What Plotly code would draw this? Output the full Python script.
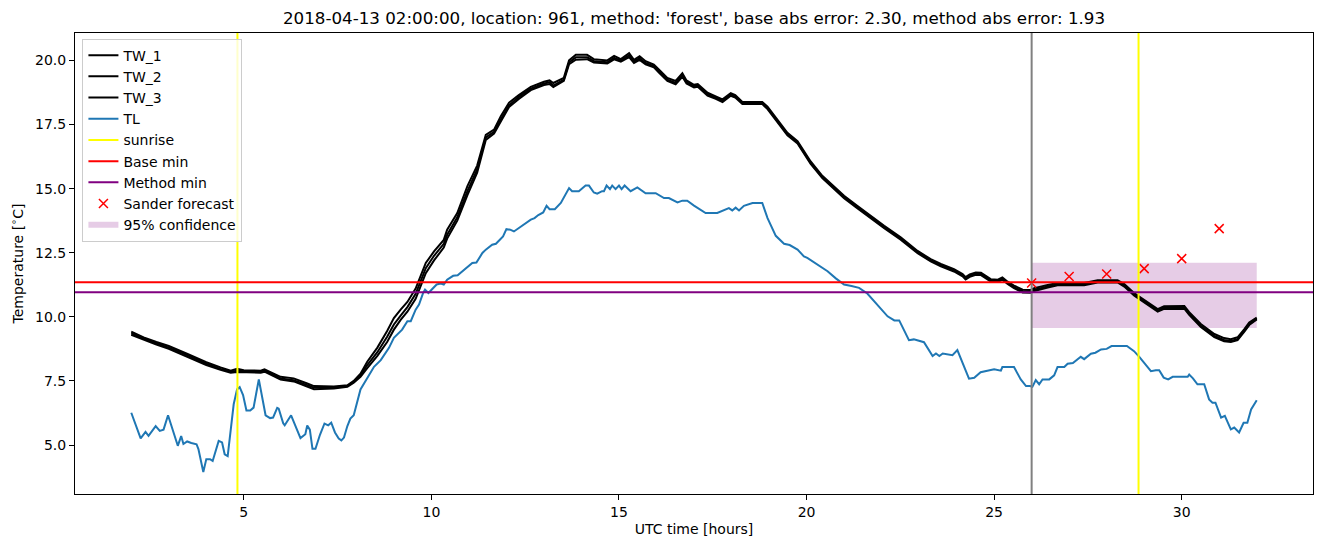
import plotly.graph_objects as go

# ---------------- data ----------------
hours_tw = [2.0, 2.33, 2.67, 3.0, 3.5, 4.0, 4.38, 4.65, 4.82, 5.0, 5.45, 5.55, 5.98, 6.33, 6.69, 6.87,
            7.4, 7.76, 7.93, 8.11, 8.29, 8.56, 8.82, 9.0, 9.18, 9.36, 9.58, 9.71, 9.85, 10.07, 10.33,
            10.42, 10.69, 10.96, 11.22, 11.45, 11.67, 11.85, 12.07, 12.33, 12.65, 13.0, 13.15, 13.25,
            13.53, 13.67, 13.85, 14.15, 14.33, 14.69, 14.87, 15.05, 15.27, 15.4, 15.55, 15.71, 15.93,
            16.07, 16.29, 16.51, 16.69, 16.8, 17.0, 17.1, 17.36, 17.58, 17.76, 17.98, 18.1, 18.29,
            18.82, 18.96, 19.22, 19.49, 19.76, 20.11, 20.42, 20.73, 21.0, 21.36, 21.71, 22.07, 22.51,
            22.96, 23.31, 23.58, 23.93, 24.16, 24.24, 24.35, 24.51, 24.65, 24.91, 25.1, 25.22, 25.36,
            25.53, 25.76, 25.98, 26.07, 26.43, 26.69, 27.4, 27.76, 28.29, 28.47, 28.73, 29.09, 29.36,
            29.53, 30.07, 30.2, 30.51, 30.87, 31.13, 31.31, 31.49, 31.67, 31.8, 32.0]

tw_1 = [9.42, 9.2, 9.02, 8.86, 8.55, 8.23, 8.03, 7.9, 7.97, 7.92, 7.9, 7.95, 7.66, 7.6, 7.4, 7.3,
        7.28, 7.33, 7.5, 7.78, 8.25, 8.8, 9.45, 9.95, 10.28, 10.58, 11.1, 11.6, 12.1, 12.55, 13.0,
        13.4, 14.05, 15.1, 15.9, 17.1, 17.3, 17.82, 18.35, 18.65, 18.97, 19.17, 19.22, 19.12,
        19.32, 20.0, 20.22, 20.22, 20.05, 20.0, 20.18, 20.05, 20.28, 20.02, 20.16, 19.97, 19.84,
        19.64, 19.32, 19.2, 19.5, 19.22, 19.05, 19.08, 18.74, 18.6, 18.48, 18.72, 18.65, 18.38,
        18.38, 18.2, 17.7, 17.18, 16.85, 16.06, 15.5, 15.1, 14.72, 14.32, 13.93, 13.55, 13.1,
        12.57, 12.25, 12.06, 11.86, 11.67, 11.55, 11.65, 11.73, 11.72, 11.47, 11.45, 11.54, 11.37,
        11.22, 11.06, 11.05, 11.12, 11.24, 11.32, 11.32, 11.43, 11.43, 11.28, 10.93, 10.56, 10.3,
        10.41, 10.42, 10.18, 9.72, 9.33, 9.17, 9.13, 9.2, 9.52, 9.78, 9.97]

tw_2 = [9.36, 9.15, 8.97, 8.8, 8.5, 8.17, 7.97, 7.86, 7.9, 7.88, 7.85, 7.9, 7.6, 7.53, 7.33, 7.24,
        7.24, 7.3, 7.46, 7.72, 8.12, 8.62, 9.22, 9.7, 10.05, 10.38, 10.9, 11.38, 11.9, 12.38, 12.85,
        13.2, 13.88, 14.9, 15.75, 17.0, 17.22, 17.7, 18.25, 18.58, 18.9, 19.1, 19.15, 19.02,
        19.25, 19.92, 20.12, 20.12, 19.98, 19.93, 20.1, 20.0, 20.2, 19.96, 20.08, 19.9, 19.78,
        19.58, 19.25, 19.12, 19.42, 19.15, 19.0, 19.02, 18.68, 18.55, 18.43, 18.67, 18.6, 18.33,
        18.33, 18.15, 17.65, 17.12, 16.8, 16.0, 15.45, 15.05, 14.67, 14.27, 13.88, 13.5, 13.05,
        12.52, 12.2, 12.01, 11.81, 11.62, 11.5, 11.6, 11.68, 11.67, 11.42, 11.4, 11.49, 11.32,
        11.16, 11.0, 10.99, 11.06, 11.18, 11.27, 11.27, 11.38, 11.38, 11.22, 10.87, 10.5, 10.24,
        10.35, 10.36, 10.12, 9.65, 9.26, 9.1, 9.06, 9.13, 9.46, 9.72, 9.92]

tw_3 = [9.3, 9.1, 8.92, 8.75, 8.45, 8.12, 7.93, 7.82, 7.85, 7.84, 7.82, 7.86, 7.55, 7.48, 7.27, 7.18,
        7.2, 7.27, 7.43, 7.66, 8.0, 8.48, 9.02, 9.5, 9.88, 10.2, 10.7, 11.15, 11.7, 12.2, 12.7,
        13.05, 13.75, 14.75, 15.62, 16.9, 17.15, 17.62, 18.18, 18.5, 18.84, 19.04, 19.08, 18.96,
        19.2, 19.85, 20.03, 20.05, 19.92, 19.88, 20.04, 19.95, 20.13, 19.9, 20.02, 19.85, 19.73,
        19.52, 19.2, 19.07, 19.36, 19.1, 18.95, 18.97, 18.63, 18.5, 18.38, 18.62, 18.55, 18.3,
        18.3, 18.1, 17.6, 17.08, 16.76, 15.96, 15.41, 15.01, 14.63, 14.23, 13.84, 13.46, 13.01,
        12.48, 12.16, 11.97, 11.77, 11.58, 11.46, 11.56, 11.64, 11.63, 11.38, 11.36, 11.45, 11.28,
        11.12, 10.95, 10.94, 11.01, 11.14, 11.23, 11.23, 11.34, 11.34, 11.18, 10.83, 10.46, 10.2,
        10.31, 10.32, 10.08, 9.6, 9.21, 9.05, 9.02, 9.09, 9.42, 9.68, 9.9]

hours_tl = [2.0, 2.25, 2.38, 2.46, 2.65, 2.76, 2.86, 2.98, 3.24, 3.33, 3.39, 3.49, 3.6, 3.74, 3.79,
            3.92, 4.0, 4.1, 4.17, 4.33, 4.42, 4.49, 4.57, 4.73, 4.82, 4.89, 4.98, 5.07, 5.17, 5.26,
            5.4, 5.58, 5.7, 5.78, 5.89, 5.93, 6.05, 6.09, 6.26, 6.38, 6.51, 6.64, 6.69, 6.76, 6.83,
            6.91, 7.03, 7.15, 7.25, 7.33, 7.43, 7.53, 7.6, 7.67, 7.76, 7.84, 7.93, 8.11, 8.29, 8.47,
            8.65, 8.87, 9.0, 9.22, 9.36, 9.45, 9.58, 9.67, 9.78, 9.83, 9.92, 10.14, 10.25, 10.33,
            10.42, 10.58, 10.7, 10.87, 11.0, 11.09, 11.2, 11.36, 11.45, 11.62, 11.72, 11.91, 12.0,
            12.1, 12.2, 12.38, 12.65, 12.75, 12.85, 12.98, 13.07, 13.15, 13.29, 13.45, 13.67, 13.75,
            13.93, 14.11, 14.2, 14.33, 14.42, 14.55, 14.6, 14.67, 14.76, 14.82, 14.91, 15.0, 15.07,
            15.15, 15.31, 15.49, 15.71, 15.98, 16.2, 16.33, 16.56, 16.69, 16.82, 17.0, 17.31, 17.62,
            17.76, 17.93, 18.02, 18.11, 18.2, 18.33, 18.56, 18.82, 18.96, 19.18, 19.4, 19.55, 19.76,
            19.93, 20.02, 20.38, 20.5, 20.56, 20.78, 20.82, 21.0, 21.2, 21.4, 21.62, 21.85, 21.98,
            22.16, 22.34, 22.47, 22.73, 22.86, 23.13, 23.36, 23.45, 23.54, 23.63, 23.89, 24.02,
            24.33, 24.47, 24.64, 25.0, 25.18, 25.22, 25.53, 25.71, 25.85, 25.96, 26.02, 26.11, 26.2,
            26.29, 26.47, 26.6, 26.69, 26.87, 26.96, 27.1, 27.31, 27.4, 27.58, 27.7, 27.85, 28.0,
            28.13, 28.54, 28.73, 28.87, 29.05, 29.18, 29.31, 29.4, 29.52, 29.64, 29.76, 30.16, 30.2,
            30.3, 30.42, 30.6, 30.73, 30.82, 30.9, 31.05, 31.15, 31.31, 31.4, 31.53, 31.65, 31.75,
            31.85, 32.0]

tl = [6.26, 5.26, 5.51, 5.36, 5.74, 5.55, 5.6, 6.16, 4.97, 5.35, 5.04, 5.14, 5.08, 5.03, 4.84,
      3.95, 4.45, 4.45, 4.38, 5.16, 5.1, 4.64, 4.57, 6.59, 7.17, 7.26, 6.95, 6.35, 6.35, 6.46,
      7.56, 6.16, 6.05, 6.07, 6.45, 6.42, 5.85, 5.77, 6.16, 5.72, 5.27, 5.42, 5.76, 5.6, 4.85,
      4.85, 5.4, 5.84, 5.77, 5.87, 5.49, 5.25, 5.18, 5.29, 5.74, 6.03, 6.16, 7.17, 7.63, 8.05,
      8.31, 8.79, 9.18, 9.5, 9.83, 9.83, 10.28, 10.48, 10.93, 11.06, 10.93, 11.26, 11.3, 11.26,
      11.45, 11.6, 11.62, 11.84, 11.97, 12.1, 12.12, 12.49, 12.62, 12.81, 12.85, 13.14, 13.42,
      13.4, 13.33, 13.52, 13.79, 13.85, 13.97, 14.07, 14.33, 14.2, 14.2, 14.44, 15.02, 14.9,
      14.9, 15.12, 15.12, 14.85, 14.8, 14.9, 14.9, 15.12, 14.98, 15.12, 14.98, 15.12, 14.98,
      15.12, 14.9, 15.05, 14.82, 14.82, 14.63, 14.63, 14.46, 14.53, 14.53, 14.34, 14.05, 14.05,
      14.15, 14.24, 14.15, 14.26, 14.15, 14.33, 14.44, 14.44, 13.85, 13.16, 12.85, 12.8, 12.62,
      12.36, 12.3, 11.95, 11.85, 11.78, 11.5, 11.45, 11.26, 11.2, 11.13, 10.91, 10.54, 10.35,
      10.02, 9.86, 9.86, 9.09, 9.12, 9.01, 8.47, 8.57, 8.47, 8.57, 8.5, 8.7,
      7.59, 7.62, 7.84, 7.95, 7.9, 8.04, 8.04, 7.56, 7.3, 7.3, 7.27, 7.53, 7.37,
      7.56, 7.56, 7.72, 8.04, 8.04, 8.17, 8.2, 8.44, 8.35, 8.56, 8.6, 8.73, 8.75,
      8.86, 8.86, 8.66, 8.44, 8.14, 7.88, 7.92, 7.92, 7.63, 7.56, 7.66, 7.66, 7.75,
      7.6, 7.37, 7.37, 6.78, 6.65, 6.65, 6.07, 6.14, 5.61, 5.68, 5.49, 5.87, 5.87,
      6.39, 6.75]

sunrise_hours = [4.83, 28.85]
forecast_start = 26.0
base_min = 11.35
method_min = 10.96

forecast_hours = [26, 27, 28, 29, 30, 31]
sander_forecast = [11.32, 11.57, 11.67, 11.88, 12.27, 13.44]

conf_hours = [26, 32]
conf_low = 9.56
conf_high = 12.11

title_text = ("2018-04-13 02:00:00, location: 961, method: 'forest', "
              "base abs error: 2.30, method abs error: 1.93")

# ---------------- figure ----------------
FONT = "DejaVu Sans, Liberation Sans, sans-serif"
fig = go.Figure()

# confidence band (drawn first so lines sit on top)
fig.add_trace(go.Scatter(
    x=[conf_hours[0], conf_hours[1], conf_hours[1], conf_hours[0], conf_hours[0]],
    y=[conf_low, conf_low, conf_high, conf_high, conf_low],
    fill="toself", fillcolor="rgba(128,0,128,0.2)", mode="none",
    name="95% confidence", legendrank=9, hoverinfo="skip"))

for name, vals, rank in [("TW_1", tw_1, 1), ("TW_2", tw_2, 2), ("TW_3", tw_3, 3)]:
    fig.add_trace(go.Scatter(x=hours_tw, y=vals, mode="lines", name=name, legendrank=rank,
                             line=dict(color="black", width=2)))

fig.add_trace(go.Scatter(x=hours_tl, y=tl, mode="lines", name="TL", legendrank=4,
                         line=dict(color="#1f77b4", width=2)))

# legend entries for reference lines (drawn as full-span shapes below)
fig.add_trace(go.Scatter(x=[None], y=[None], mode="lines", name="sunrise", legendrank=5,
                         line=dict(color="yellow", width=2)))
fig.add_trace(go.Scatter(x=[None], y=[None], mode="lines", name="Base min", legendrank=6,
                         line=dict(color="red", width=2)))
fig.add_trace(go.Scatter(x=[None], y=[None], mode="lines", name="Method min", legendrank=7,
                         line=dict(color="purple", width=2)))

fig.add_trace(go.Scatter(x=forecast_hours, y=sander_forecast, mode="markers",
                         name="Sander forecast", legendrank=8,
                         marker=dict(symbol="x-thin", size=9, color="red",
                                     line=dict(color="red", width=1.5))))

for sh in sunrise_hours:
    fig.add_shape(type="line", xref="x", yref="paper", x0=sh, x1=sh, y0=0, y1=1,
                  line=dict(color="yellow", width=2), layer="above")
fig.add_shape(type="line", xref="x", yref="paper", x0=forecast_start, x1=forecast_start,
              y0=0, y1=1, line=dict(color="gray", width=2), layer="above")
fig.add_shape(type="line", xref="paper", yref="y", x0=0, x1=1, y0=base_min, y1=base_min,
              line=dict(color="red", width=2), layer="above")
fig.add_shape(type="line", xref="paper", yref="y", x0=0, x1=1, y0=method_min, y1=method_min,
              line=dict(color="purple", width=2), layer="above")

fig.update_layout(
    width=1324, height=547,
    margin=dict(l=75, r=11, t=33, b=53),
    paper_bgcolor="white", plot_bgcolor="white",
    font=dict(family=FONT, size=14, color="black"),
    title=dict(text=title_text, x=(75 + 1313) / 2 / 1324, xanchor="center",
               y=1 - 18 / 547, yanchor="middle", yref="container",
               font=dict(family=FONT, size=16.7, color="black")),
    showlegend=True,
    legend=dict(x=0.006, y=0.988, xanchor="left", yanchor="top",
                bgcolor="rgba(255,255,255,0.8)", bordercolor="#cccccc", borderwidth=1,
                font=dict(family=FONT, size=14, color="black"),
                tracegroupgap=0, itemwidth=30),
    hovermode=False,
)

fig.update_xaxes(range=[0.5, 33.5], tickvals=[5, 10, 15, 20, 25, 30],
                 showline=True, linecolor="black", linewidth=1, mirror=True,
                 ticks="outside", ticklen=5, tickcolor="black", showgrid=False, zeroline=False,
                 title=dict(text="UTC time [hours]", standoff=5,
                            font=dict(family=FONT, size=14)),
                 tickfont=dict(family=FONT, size=14))
fig.update_yaxes(range=[3.09, 21.07], tickvals=[5, 7.5, 10, 12.5, 15, 17.5, 20],
                 ticktext=["5.0", "7.5", "10.0", "12.5", "15.0", "17.5", "20.0"],
                 showline=True, linecolor="black", linewidth=1, mirror=True,
                 ticks="outside", ticklen=5, tickcolor="black", showgrid=False, zeroline=False,
                 title=dict(text="Temperature [<sup>∘</sup>C]", standoff=8,
                            font=dict(family=FONT, size=14)),
                 tickfont=dict(family=FONT, size=14))

fig.write_html("out.html")
